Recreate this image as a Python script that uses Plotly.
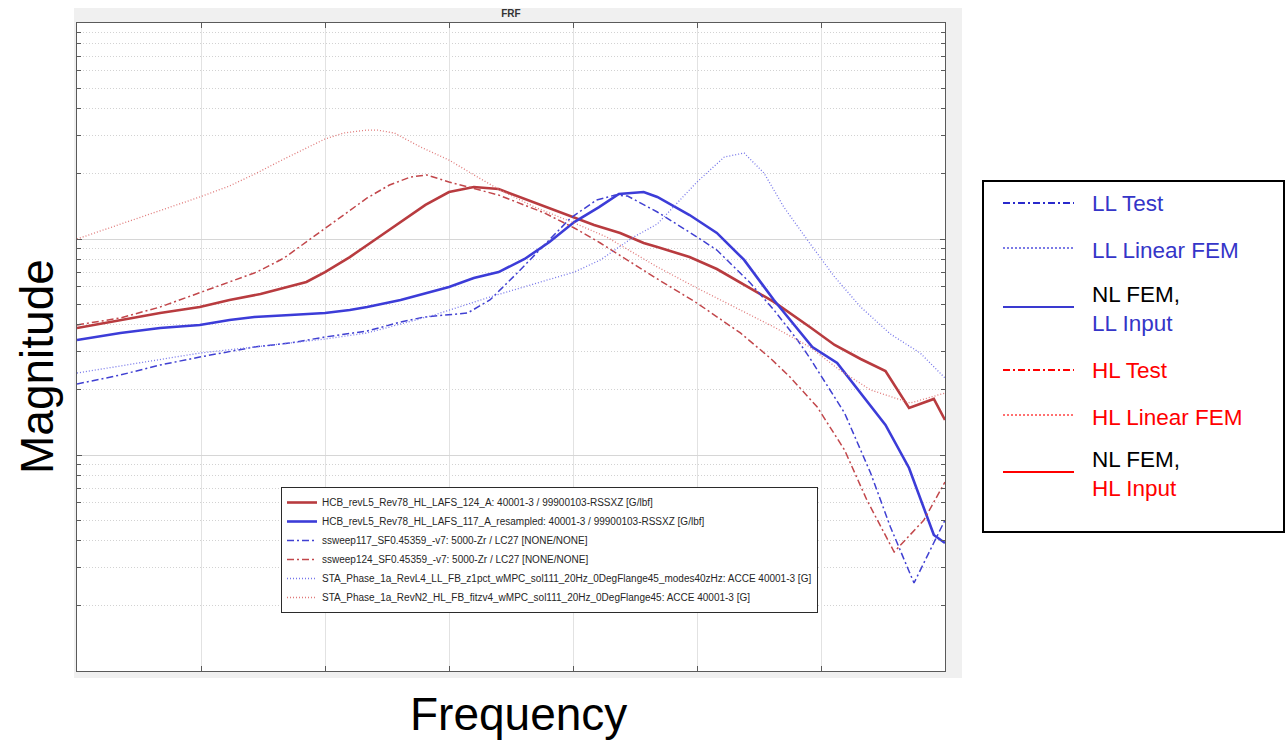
import numpy as np
import plotly.graph_objects as go

# ---------------- data (frequency in arbitrary units 0-70, magnitude in dB) ----------------
hl_nl_freq = [0, 3.5, 6.7, 9.9, 12.3, 14.8, 16.1, 18.5, 20.0, 22.0, 24.0, 26.1, 28.1, 30.0, 32.0, 34.0,
              35.7, 37.9, 40.1, 41.7, 43.8, 45.7, 46.8, 49.4, 51.6, 54.6, 56.2, 59.1, 61.1, 63.2, 65.2,
              67.1, 69.1, 70.0]
hl_nl_mag = [31.76, 32.5, 33.15, 33.7, 34.35, 34.91, 35.28, 36.02, 36.94, 38.33, 39.91, 41.57, 43.15,
             44.35, 44.81, 44.63, 43.89, 42.96, 42.04, 41.30, 40.56, 39.63, 39.26, 38.33, 37.22, 35.28,
             34.17, 31.85, 30.19, 28.89, 27.78, 24.35, 25.19, 23.24]

ll_nl_freq = [0, 3.5, 6.7, 9.9, 12.3, 14.3, 17.2, 20.0, 22.0, 23.4, 26.1, 28.2, 30.0, 32.0, 34.0, 36.1,
              38.1, 40.1, 42.1, 43.7, 45.7, 46.8, 49.4, 51.6, 53.8, 56.2, 59.3, 61.3, 63.2, 65.2, 67.1,
              69.1, 70.0]
ll_nl_mag = [30.65, 31.30, 31.76, 32.04, 32.5, 32.78, 32.96, 33.15, 33.43, 33.70, 34.35, 35.0, 35.56,
             36.39, 36.94, 38.15, 39.72, 41.57, 42.96, 44.17, 44.35, 43.89, 42.22, 40.56, 38.06, 34.35,
             30.0, 28.52, 25.74, 22.78, 18.80, 12.59, 11.85]

ll_test_freq = [0, 3.5, 6.7, 9.9, 14.3, 17.2, 20.0, 23.4, 26.1, 28.0, 31.5, 33.3, 35.5, 37.7, 39.8, 41.9,
                43.4, 44.4, 46.8, 50.0, 51.6, 54.3, 56.2, 58.1, 59.1, 61.9, 64.0, 65.6, 67.5, 70.0]
ll_test_mag = [26.57, 27.41, 28.33, 29.07, 30.0, 30.37, 30.93, 31.48, 32.31, 32.78, 33.15, 34.35, 36.85,
               39.44, 41.94, 43.61, 44.07, 43.98, 42.5, 40.19, 38.98, 35.93, 33.43, 30.65, 28.98, 23.89,
               18.33, 13.33, 8.15, 13.98]

hl_test_freq = [0, 3.5, 6.7, 9.9, 12.3, 14.5, 16.7, 20.0, 23.4, 25.2, 26.9, 28.2, 30.0, 34.0, 37.7, 40.1,
                42.2, 46.8, 50.0, 53.5, 55.9, 57.5, 59.7, 61.9, 63.7, 65.9, 68.3, 70.0]
hl_test_mag = [32.04, 32.69, 33.70, 35.0, 36.02, 36.94, 38.24, 41.02, 43.80, 45.0, 45.74, 45.93, 45.28,
               44.07, 42.41, 41.02, 39.63, 36.30, 34.07, 31.30, 28.98, 27.22, 24.44, 20.46, 15.83, 11.02,
               13.98, 17.5]

ll_lin_freq = [0, 3.5, 6.7, 9.9, 14.3, 17.2, 20.0, 23.4, 28.8, 33.3, 40.1, 42.2, 44.9, 46.8, 50.0, 52.2,
               53.8, 55.4, 57.0, 58.9, 61.1, 63.2, 65.6, 68.0, 70.0]
ll_lin_mag = [27.59, 28.24, 28.89, 29.44, 30.0, 30.37, 30.74, 31.30, 32.96, 34.63, 36.94, 38.06, 40.19,
              41.39, 45.28, 47.59, 47.96, 46.11, 42.96, 39.91, 36.48, 33.70, 31.20, 29.44, 27.13]

hl_lin_freq = [0, 3.5, 6.7, 9.9, 12.3, 14.5, 16.7, 20.0, 21.5, 23.4, 24.2, 25.6, 27.7, 30.0, 32.3, 34.1,
               36.9, 40.1, 42.7, 46.8, 50.0, 53.5, 56.2, 59.1, 61.5, 64.0, 67.2, 70.0]
hl_lin_mag = [40.0, 41.39, 42.59, 43.89, 44.91, 46.11, 47.41, 49.26, 49.81, 50.09, 50.09, 49.81, 48.52,
              47.31, 45.74, 44.54, 42.96, 41.48, 40.19, 37.41, 35.46, 33.43, 31.85, 30.0, 27.87, 26.02,
              24.81, 25.74]

legend_names = [
    "HCB_revL5_Rev78_HL_LAFS_124_A: 40001-3 / 99900103-RSSXZ [G/lbf]",
    "HCB_revL5_Rev78_HL_LAFS_117_A_resampled: 40001-3 / 99900103-RSSXZ [G/lbf]",
    "ssweep117_SF0.45359_-v7: 5000-Zr / LC27 [NONE/NONE]",
    "ssweep124_SF0.45359_-v7: 5000-Zr / LC27 [NONE/NONE]",
    "STA_Phase_1a_RevL4_LL_FB_z1pct_wMPC_sol111_20Hz_0DegFlange45_modes40zHz: ACCE 40001-3 [G]",
    "STA_Phase_1a_RevN2_HL_FB_fitzv4_wMPC_sol111_20Hz_0DegFlange45: ACCE 40001-3 [G]",
]

key_labels = [
    "<span style='color:#3535c8'>LL Test</span>",
    "<span style='color:#3535c8'>LL Linear FEM</span>",
    "<span style='color:#000000'>NL FEM,</span><br><span style='color:#3535c8'>LL Input</span>",
    "<span style='color:#ff0000'>HL Test</span>",
    "<span style='color:#ff0000'>HL Linear FEM</span>",
    "<span style='color:#000000'>NL FEM,</span><br><span style='color:#ff0000'>HL Input</span>",
]

# ---------------- styles ----------------
DASHDOT = "7px,3px,2px,3px"
DOT = "1px,2px"
FONT = "Arial, Liberation Sans, sans-serif"

series = [
    (hl_nl_freq, hl_nl_mag, legend_names[0], "#b83b3f", 2.6, "solid"),
    (ll_nl_freq, ll_nl_mag, legend_names[1], "#3c3cd8", 2.6, "solid"),
    (ll_test_freq, ll_test_mag, legend_names[2], "#4040d2", 1.5, DASHDOT),
    (hl_test_freq, hl_test_mag, legend_names[3], "#c2474b", 1.5, DASHDOT),
    (ll_lin_freq, ll_lin_mag, legend_names[4], "#7676ea", 1.3, DOT),
    (hl_lin_freq, hl_lin_mag, legend_names[5], "#e07a7a", 1.3, DOT),
]

fig = go.Figure()
for fx, fy, name, color, width, dash in series:
    fig.add_trace(go.Scatter(x=fx, y=fy, mode="lines", name=name,
                             line=dict(color=color, width=width, dash=dash)))

W, H = 1286, 743
L, R, T, B = 77, 945, 23, 671


def px(xp):
    return (xp - L) / (R - L)


def py(yp):
    return (B - yp) / (B - T)


minor_vals = [d + 20 * np.log10(k) for d in (0, 20, 40) for k in range(2, 10)]

shapes = [
    # grey figure frame (MATLAB figure colour) and white axes area
    dict(type="rect", xref="paper", yref="paper", x0=px(74), x1=px(962), y0=py(678), y1=py(8),
         fillcolor="#f0f0f0", line=dict(width=0), layer="below"),
    dict(type="rect", xref="paper", yref="paper", x0=0, x1=1, y0=0, y1=1,
         fillcolor="#ffffff", line=dict(width=0), layer="below"),
    # right-hand key box
    dict(type="rect", xref="paper", yref="paper", x0=px(983), x1=px(1284), y0=py(532), y1=py(181),
         fillcolor="rgba(0,0,0,0)", line=dict(color="#000000", width=2)),
]

key_lines = [
    (203, "#2a2acc", 2, DASHDOT),
    (248, "#7b7be6", 2, "2px,2px"),
    (307, "#3a3ad0", 2, "solid"),
    (370, "#ff0000", 2, DASHDOT),
    (415, "#ff7070", 2, "2px,2px"),
    (472, "#ff0000", 2, "solid"),
]
key_text_y = [203, 250, 309, 371, 417, 474]

for yk, col, wk, dk in key_lines:
    shapes.append(dict(type="line", xref="paper", yref="paper", x0=px(1003), x1=px(1074),
                       y0=py(yk), y1=py(yk), line=dict(color=col, width=wk, dash=dk)))

annotations = [
    dict(text="Magnitude", xref="paper", yref="paper", x=px(37), y=py(367), textangle=-90,
         showarrow=False, xanchor="center", yanchor="middle",
         font=dict(family=FONT, size=46, color="#000000")),
    dict(text="Frequency", xref="paper", yref="paper", x=px(518), y=py(714),
         showarrow=False, xanchor="center", yanchor="middle",
         font=dict(family=FONT, size=46, color="#000000")),
]
for lab, yk in zip(key_labels, key_text_y):
    annotations.append(dict(text=lab, xref="paper", yref="paper", x=px(1090), y=py(yk),
                            showarrow=False, xanchor="left", yanchor="middle", align="left",
                            font=dict(family=FONT, size=22.5)))

axis_common = dict(showline=True, linecolor="#5a5a5a", linewidth=1, mirror="allticks",
                   ticks="inside", ticklen=5, tickcolor="#5a5a5a", showticklabels=False,
                   zeroline=False)

fig.update_layout(
    width=W, height=H, autosize=False,
    margin=dict(l=L, r=W - R, t=T, b=H - B, pad=0),
    paper_bgcolor="#ffffff", plot_bgcolor="#ffffff",
    font=dict(family=FONT, color="#262626"),
    title=dict(text="<b>FRF</b>", x=px(511), xref="paper", xanchor="center",
               y=1 - 13 / H, yref="container", yanchor="middle",
               font=dict(family=FONT, size=10, color="#333333")),
    xaxis=dict(range=[0, 70], tickmode="array", tickvals=[0, 10, 20, 30, 40, 50, 60, 70],
               showgrid=True, gridcolor="#e2e2e2", gridwidth=1, **axis_common),
    yaxis=dict(range=[0, 60], tickmode="array", tickvals=[0, 20, 40, 60],
               showgrid=True, gridcolor="#d6d6d6", gridwidth=1,
               minor=dict(tickmode="array", tickvals=minor_vals, ticks="inside", ticklen=4,
                          tickcolor="#5a5a5a", showgrid=True, gridcolor="#d2d2d2",
                          griddash="1px,2px", gridwidth=1),
               **axis_common),
    legend=dict(x=px(281), y=py(550), xanchor="left", yanchor="middle",
                bgcolor="#ffffff", bordercolor="#2b2b2b", borderwidth=1,
                font=dict(family=FONT, size=10, color="#262626"),
                itemwidth=30, tracegroupgap=0),
    showlegend=True,
    shapes=shapes,
    annotations=annotations,
)

fig.write_html("out.html")
